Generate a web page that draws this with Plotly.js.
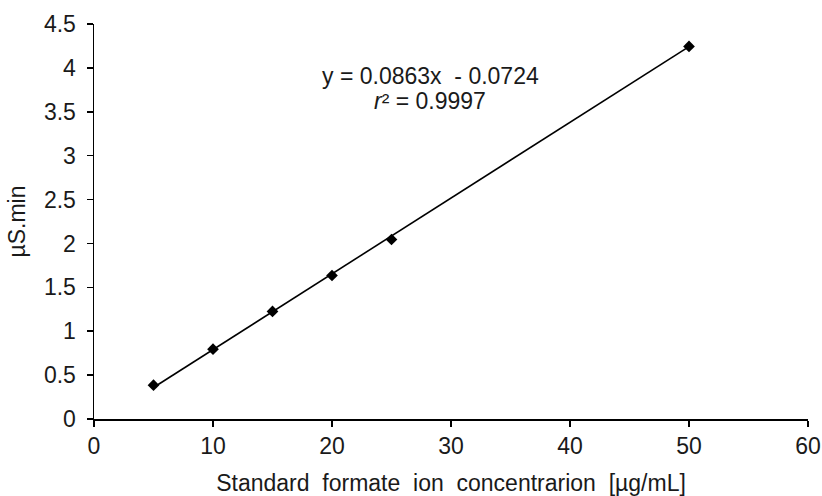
<!DOCTYPE html>
<html>
<head>
<meta charset="utf-8">
<script src="https://cdn.plot.ly/plotly-3.0.1.min.js"></script>
<style>html,body{margin:0;padding:0;background:#fff;}#chart{width:822px;height:496px;}</style>
</head>
<body>
<div id="chart"></div>
<script>
var concentration = [5, 10, 15, 20, 25, 50];
var response = [0.385, 0.795, 1.225, 1.635, 2.045, 4.245];
var trendX = [5, 50];
var trendY = [0.3591, 4.2426];
var xTicks = [0, 10, 20, 30, 40, 50, 60];
var yTicks = [0, 0.5, 1, 1.5, 2, 2.5, 3, 3.5, 4, 4.5];
var equationLine = "y = 0.0863x  - 0.0724";
var r2Line = "<i>r</i>² = 0.9997";

var font = "Liberation Sans, Arial, sans-serif";
var fs = 23;
var traces = [
  {x: trendX, y: trendY, mode: 'lines', line: {color: '#000', width: 1.6}, hoverinfo: 'skip', showlegend: false},
  {x: concentration, y: response, mode: 'markers', marker: {symbol: 'diamond', size: 9, color: '#000'}, showlegend: false}
];
var layout = {
  width: 822, height: 496,
  margin: {l: 94, r: 14, t: 24, b: 77},
  paper_bgcolor: '#fff', plot_bgcolor: '#fff',
  font: {family: font, size: fs, color: '#1a1a1a'},
  xaxis: {
    range: [0, 60], tickvals: xTicks, ticktext: xTicks.map(String),
    tickfont: {family: font, size: fs, color: '#1a1a1a'},
    showgrid: false, zeroline: false, showline: true, linecolor: '#000', linewidth: 1.5,
    ticks: 'outside', ticklen: 6, tickcolor: '#000', tickwidth: 1.5,
    title: {text: 'Standard  formate  ion  concentrarion  [µg/mL]', font: {family: font, size: fs}, standoff: 18}
  },
  yaxis: {
    range: [0, 4.5], tickvals: yTicks, ticktext: yTicks.map(String),
    tickfont: {family: font, size: fs, color: '#1a1a1a'},
    showgrid: false, zeroline: false, showline: true, linecolor: '#000', linewidth: 1.5,
    ticks: 'outside', ticklen: 6, tickcolor: '#000', tickwidth: 1.5, ticklabelstandoff: 6,
    title: {text: 'µS.min', font: {family: font, size: fs}, standoff: 12}
  },
  annotations: [
    {xref: 'x', yref: 'y', x: 28.3, y: 3.91, text: equationLine, showarrow: false,
     font: {family: font, size: fs, color: '#1a1a1a'}},
    {xref: 'x', yref: 'y', x: 28.2, y: 3.625, text: r2Line, showarrow: false,
     font: {family: font, size: fs, color: '#1a1a1a'}}
  ]
};
Plotly.newPlot('chart', traces, layout, {displayModeBar: false, staticPlot: true});
</script>
</body>
</html>
